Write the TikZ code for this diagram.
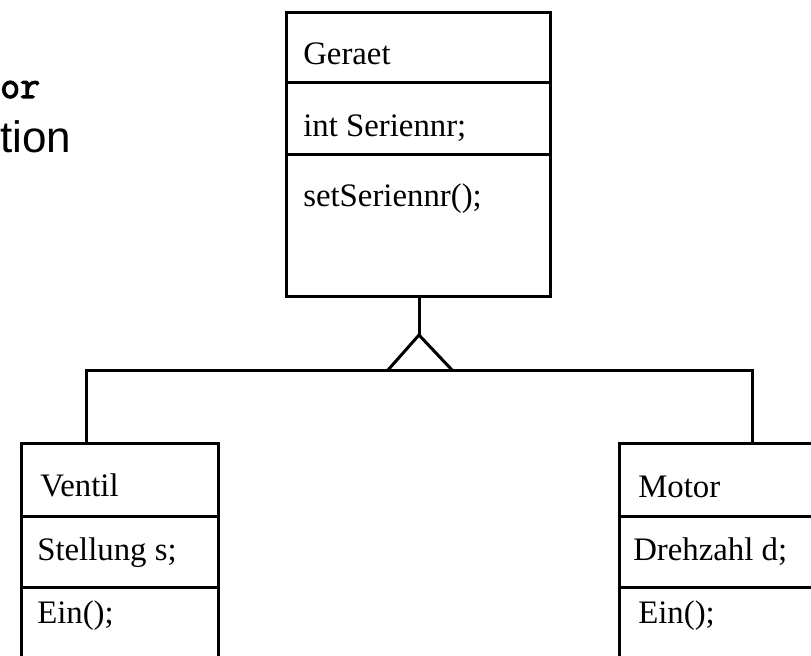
\documentclass[tikz,border=0pt]{standalone}
\usepackage{fontspec}
\setmainfont{Liberation Serif}
\newfontfamily\slidesans{Liberation Sans}
\newfontfamily\slidemono{Latin Modern Mono}[FakeBold=3]
\usepackage{tikz}

\tikzset{
  umlline/.style={line width=2.25pt, line cap=rect},
  umltext/.style={anchor=base west, inner sep=0pt, font=\fontsize{24.6}{29}\selectfont},
}

\begin{document}
\begin{tikzpicture}[x=0.75pt,y=0.75pt,yscale=-1,xscale=1]
\clip (0,0) rectangle (811,656);

% Slide text at the left margin
\draw (0,98) node [anchor=base west][inner sep=0pt] (slideA) {\slidemono\fontsize{29}{34}\selectfont or};
\draw (0,153) node [anchor=base west][inner sep=0pt] (slideB) {\slidesans\fontsize{33}{40}\selectfont tion};

%Class Geraet
\draw [umlline] (286,13) rectangle (550,297);
\draw [umlline] (286,83) -- (550,83);
\draw [umlline] (286,155) -- (550,155);
\draw (303,65) node [umltext] (geraetname) {Geraet};
\draw (303,137) node [umltext] (geraetattr) {int Seriennr;};
\draw (303,207) node [umltext] (geraetop) {setSeriennr();};

%Class Ventil
\draw [umlline] (21,443) rectangle (218,700);
\draw [umlline] (21,516) -- (218,516);
\draw [umlline] (21,587) -- (218,587);
\draw (40,496) node [umltext] (ventilname) {Ventil};
\draw (37,560) node [umltext] (ventilattr) {Stellung s;};
\draw (37,623) node [umltext] (ventilop) {Ein();};

%Class Motor
\draw [umlline] (619,443) rectangle (860,700);
\draw [umlline] (619,516) -- (860,516);
\draw [umlline] (619,587) -- (860,587);
\draw (638,497) node [umltext] (motorname) {Motor};
\draw (633,560) node [umltext] (motorattr) {Drehzahl d;};
\draw (638,623) node [umltext] (motorop) {Ein();};

% Connection points
\coordinate (gbottom) at (419,297);
\coordinate (apex) at (419,335);
\coordinate (baseL) at (388,370);
\coordinate (baseR) at (452,370);
\coordinate (railL) at (86,370);
\coordinate (railR) at (752,370);
\coordinate (vtop) at (86,443);
\coordinate (mtop) at (752,443);

%Inheritance
\draw [umlline] (gbottom) -- (apex);
\draw [umlline, line join=miter] (baseL) -- (apex) -- (baseR);
\draw [umlline] (vtop) -- (railL) -- (railR) -- (mtop);

\end{tikzpicture}
\end{document}
